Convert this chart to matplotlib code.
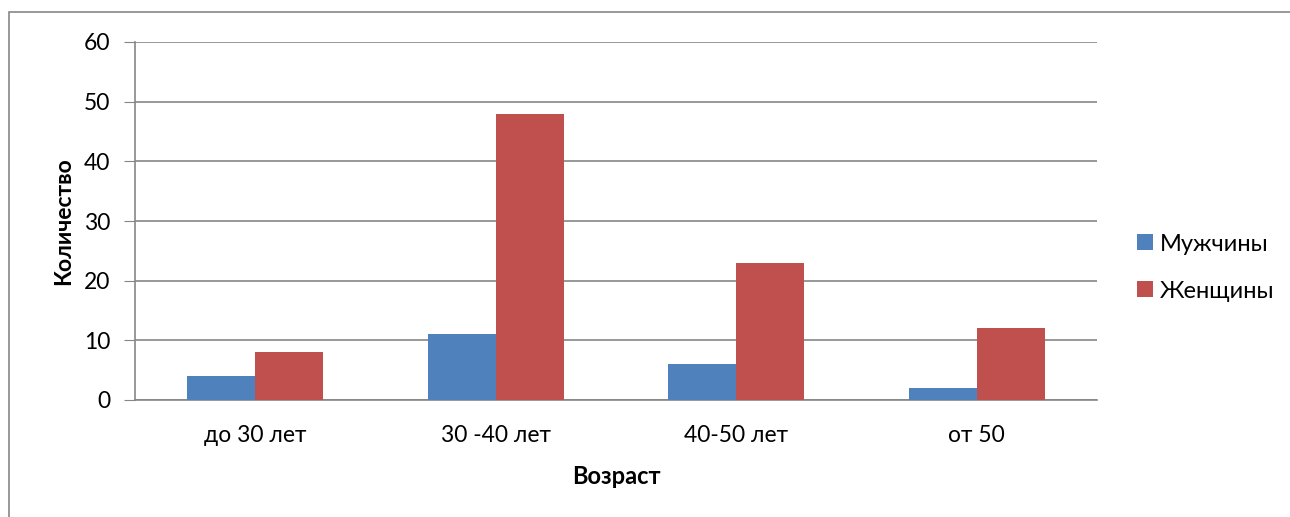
import matplotlib.pyplot as plt
import matplotlib.patches as mpatches
import numpy as np

plt.rcParams['font.family'] = ['Lato', 'DejaVu Sans']

categories = ['до 30 лет', '30 -40 лет', '40-50 лет', 'от 50']
men = [4, 11, 6, 2]
women = [8, 48, 23, 12]
series_names = ['Мужчины', 'Женщины']
yticks = [0, 10, 20, 30, 40, 50, 60]

W, H = 1290, 517
fig = plt.figure(figsize=(W / 100, H / 100), dpi=100)

# outer chart frame (runs past right and bottom edge)
frame = mpatches.Rectangle((9 / W, -0.1), 1.2, (H - 12) / H + 0.1,
                           transform=fig.transFigure, fill=False,
                           edgecolor='#868686', lw=1.2)
fig.patches.append(frame)

ax = fig.add_axes([135 / W, (H - 400) / H, (1097 - 135) / W, (400 - 42) / H])

x = np.arange(len(categories))
bw = 0.283
ax.bar(x - bw / 2, men, bw, color='#4F81BD', label=series_names[0], zorder=3)
ax.bar(x + bw / 2, women, bw, color='#C0504D', label=series_names[1], zorder=3)

ax.set_xlim(-0.5, len(categories) - 0.5)
ax.set_ylim(0, 60)
ax.set_yticks(yticks)
ax.set_xticks(x)
ax.set_xticklabels(categories, fontsize=16.5)
ax.tick_params(axis='y', labelsize=16.5, length=8, color='#868686', pad=10)
ax.tick_params(axis='x', length=0, pad=18)
ax.yaxis.grid(True, color='#868686', lw=1.2, zorder=0)

for s in ['top', 'right']:
    ax.spines[s].set_visible(False)
for s in ['left', 'bottom']:
    ax.spines[s].set_color('#868686')
    ax.spines[s].set_linewidth(1.2)

ax.set_ylabel('Количество', fontsize=16.5, fontweight='bold', labelpad=7)
ax.set_xlabel('Возраст', fontsize=17, fontweight='bold', labelpad=14)

ax.legend(loc='center left', bbox_to_anchor=(1.02, 0.37), frameon=False,
          fontsize=17, handlelength=0.65, handleheight=0.65, handletextpad=0.3,
          labelspacing=1.1, borderaxespad=0.5)

fig.savefig('out.png', dpi=100)
